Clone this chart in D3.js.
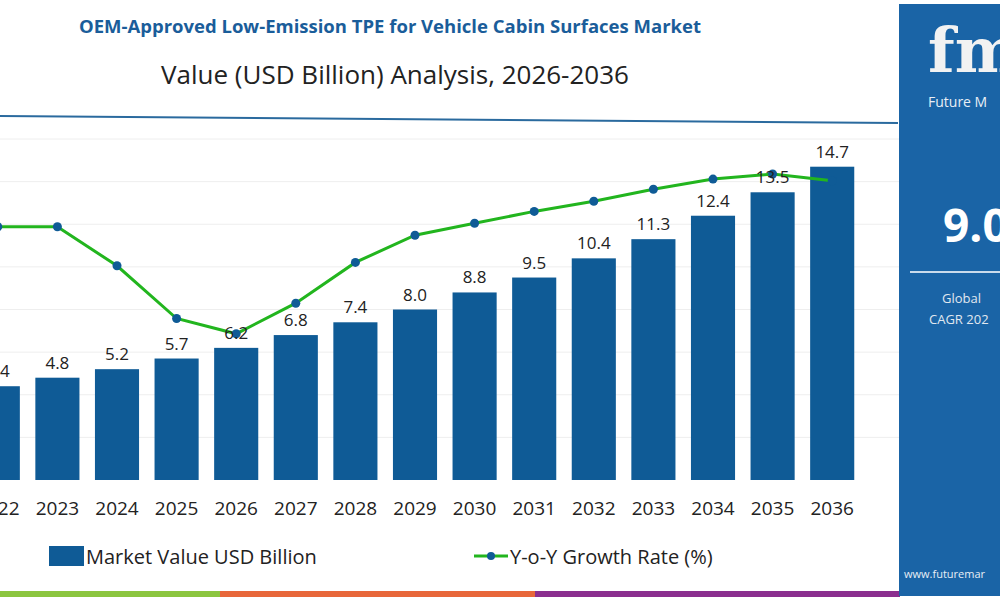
<!DOCTYPE html>
<html><head><meta charset="utf-8">
<script src="https://cdn.jsdelivr.net/npm/d3@7"></script>
<style>body{margin:0;background:#fff}svg{display:block;font-family:"Open Sans",Roboto,sans-serif}</style>
</head><body><svg id="c" width="1000" height="600"></svg>
<script>
// chart data
const years = ["2022","2023","2024","2025","2026","2027","2028","2029","2030","2031","2032","2033","2034","2035","2036"];
const marketValue = [4.4,4.8,5.2,5.7,6.2,6.8,7.4,8.0,8.8,9.5,10.4,11.3,12.4,13.5,14.7];
const growthRate = [14.9,14.9,12.6,9.5,8.6,10.4,12.8,14.4,15.1,15.8,16.4,17.1,17.7,18.0,17.6];

const svg = d3.select("#c");
const blue = "#0f5b96";

const x = d3.scaleBand().domain(years).range([-32, 862]).paddingInner(0.26).paddingOuter(0.13);
const y = d3.scaleLinear().domain([0, 16]).range([480, 139]);
const yG = d3.scaleLinear().domain([0, 20]).range([480, 140]);

// grid
svg.append("g").selectAll("line").data(d3.range(2, 17, 2)).enter().append("line")
    .attr("x1", 0).attr("x2", 900)
    .attr("y1", d => y(d)).attr("y2", d => y(d))
    .attr("stroke", "#eeeeee");

// titles
svg.append("text").attr("x", 390).attr("y", 33).attr("text-anchor", "middle")
    .attr("font-size", 18.5).attr("font-weight", 700).attr("fill", "#1a5d9a")
    .text("OEM-Approved Low-Emission TPE for Vehicle Cabin Surfaces Market");
svg.append("text").attr("x", 395).attr("y", 84).attr("text-anchor", "middle")
    .attr("font-size", 26).attr("fill", "#222")
    .text("Value (USD Billion) Analysis, 2026-2036");
svg.append("line").attr("x1", 0).attr("y1", 116).attr("x2", 898).attr("y2", 123)
    .attr("stroke", "#2a6a9e").attr("stroke-width", 2);

// bars
svg.append("g").selectAll("rect").data(years).enter().append("rect")
    .attr("x", d => x(d)).attr("width", x.bandwidth())
    .attr("y", (d, i) => y(marketValue[i]))
    .attr("height", (d, i) => y(0) - y(marketValue[i]))
    .attr("fill", blue);

// growth line
const line = d3.line().x((d, i) => x(years[i]) + x.bandwidth() / 2).y(d => yG(d));
svg.append("path").datum(growthRate).attr("d", line)
    .attr("fill", "none").attr("stroke", "#22b51e").attr("stroke-width", 3);
svg.append("g").selectAll("circle").data(growthRate).enter().append("circle")
    .attr("cx", (d, i) => x(years[i]) + x.bandwidth() / 2).attr("cy", d => yG(d))
    .attr("r", 4.5).attr("fill", blue);

// value labels
svg.append("g").selectAll("text").data(marketValue).enter().append("text")
    .attr("x", (d, i) => x(years[i]) + x.bandwidth() / 2)
    .attr("y", d => y(d) - 9).attr("text-anchor", "middle")
    .attr("font-size", 17).attr("fill", "#222").text(d => d.toFixed(1));

// x axis
svg.append("g").attr("transform", "translate(0,480)")
    .call(d3.axisBottom(x).tickSize(0).tickPadding(22))
    .call(g => g.select(".domain").remove())
    .selectAll("text").attr("font-size", 19).attr("fill", "#222")
    .attr("font-family", "'Open Sans',sans-serif");

// legend
svg.append("rect").attr("x", 49).attr("y", 546).attr("width", 35).attr("height", 20).attr("fill", blue);
svg.append("text").attr("x", 86).attr("y", 564).attr("font-size", 20).attr("fill", "#222").text("Market Value USD Billion");
svg.append("line").attr("x1", 474).attr("x2", 508).attr("y1", 556).attr("y2", 556).attr("stroke", "#22b51e").attr("stroke-width", 3);
svg.append("circle").attr("cx", 491).attr("cy", 556).attr("r", 4).attr("fill", blue);
svg.append("text").attr("x", 510).attr("y", 564).attr("font-size", 20).attr("fill", "#222").text("Y-o-Y Growth Rate (%)");

// bottom strip
const strip = [["#8cc63f", 0, 220], ["#e8673a", 220, 535], ["#8b2f8f", 535, 900]];
svg.append("g").selectAll("rect").data(strip).enter().append("rect")
    .attr("x", d => d[1]).attr("width", d => d[2] - d[1]).attr("y", 591).attr("height", 6).attr("fill", d => d[0]);

// side panel
const p = svg.append("g");
p.append("rect").attr("x", 899).attr("y", 4).attr("width", 101).attr("height", 592).attr("fill", "#1a64a6");
p.append("text").attr("x", 928).attr("y", 72).attr("font-size", 62).attr("font-weight", 700)
    .attr("font-family", "DejaVu Serif,serif").attr("fill", "#f2f2f2").text("fm");
p.append("text").attr("x", 928).attr("y", 107).attr("font-size", 14).attr("fill", "#e8eef5").text("Future M");
p.append("text").attr("x", 943).attr("y", 242).attr("font-size", 46).attr("font-weight", 700).attr("fill", "#fff").text("9.0");
p.append("line").attr("x1", 910).attr("x2", 1000).attr("y1", 272).attr("y2", 272).attr("stroke", "#c9dbec").attr("stroke-width", 2);
p.append("text").attr("x", 942).attr("y", 303).attr("font-size", 13).attr("fill", "#e0e8f0").text("Global");
p.append("text").attr("x", 929).attr("y", 324).attr("font-size", 13).attr("fill", "#e0e8f0").text("CAGR 202");
p.append("text").attr("x", 904).attr("y", 578).attr("font-size", 11).attr("fill", "#e8eef5").text("www.futuremar");
</script></body></html>
